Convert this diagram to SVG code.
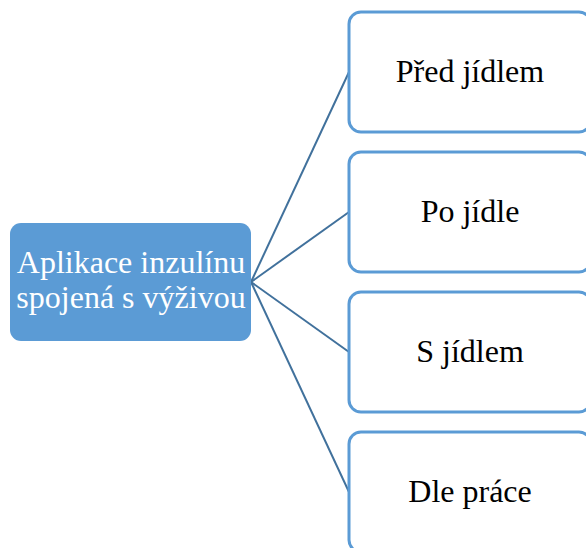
<svg xmlns="http://www.w3.org/2000/svg" width="586" height="548" viewBox="0 0 586 548">
  <style>
    .root { fill: #5B9BD5; }
    .leaf { fill: #FFFFFF; stroke: #5B9BD5; stroke-width: 3; }
    .link { stroke: #41719C; stroke-width: 2; fill: none; }
    text { font-size: 32px; text-anchor: middle; }
    .root-label { fill: #FFFFFF; }
    .leaf-label { fill: #000000; }
  </style>
  <rect width="586" height="548" fill="#FFFFFF"/>
  <g id="connectors">
    <line class="link" x1="251" y1="282" x2="349" y2="72"/>
    <line class="link" x1="251" y1="282" x2="349" y2="212"/>
    <line class="link" x1="251" y1="282" x2="349" y2="352"/>
    <line class="link" x1="251" y1="282" x2="349" y2="492"/>
  </g>
  <g id="node-root" font-family="'Liberation Serif', 'Times New Roman', serif">
    <rect class="root" x="10" y="223" width="241" height="118" rx="11"/>
    <text class="root-label" x="131" y="273">Aplikace inzulínu</text>
    <text class="root-label" x="131" y="308">spojená s výživou</text>
  </g>
  <g id="node-pred" font-family="'Liberation Serif', 'Times New Roman', serif">
    <rect class="leaf" x="349" y="12" width="242" height="120" rx="12"/>
    <text class="leaf-label" x="470" y="82">Před jídlem</text>
  </g>
  <g id="node-po" font-family="'Liberation Serif', 'Times New Roman', serif">
    <rect class="leaf" x="349" y="152" width="242" height="120" rx="12"/>
    <text class="leaf-label" x="470" y="222">Po jídle</text>
  </g>
  <g id="node-s" font-family="'Liberation Serif', 'Times New Roman', serif">
    <rect class="leaf" x="349" y="292" width="242" height="120" rx="12"/>
    <text class="leaf-label" x="470" y="362">S jídlem</text>
  </g>
  <g id="node-dle" font-family="'Liberation Serif', 'Times New Roman', serif">
    <rect class="leaf" x="349" y="432" width="242" height="120" rx="12"/>
    <text class="leaf-label" x="470" y="502">Dle práce</text>
  </g>
</svg>
